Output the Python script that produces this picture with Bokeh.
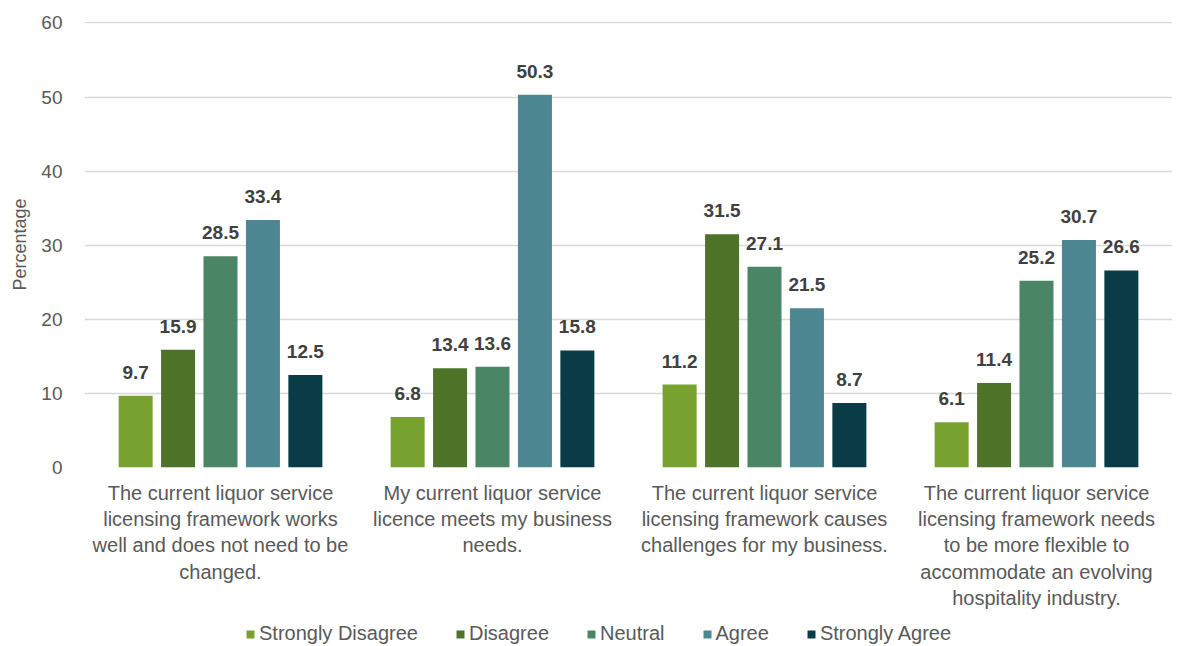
from bokeh.plotting import figure
from bokeh.models import ColumnDataSource, FactorRange, Legend, LegendItem, Range1d
from bokeh.layouts import column
from bokeh.transform import dodge
from bokeh.embed import file_html
from bokeh.resources import INLINE
from bokeh.core.properties import value

categories = [
    "The current liquor service\nlicensing framework works\nwell and does not need to be\nchanged.",
    "My current liquor service\nlicence meets my business\nneeds.",
    "The current liquor service\nlicensing framework causes\nchallenges for my business.",
    "The current liquor service\nlicensing framework needs\nto be more flexible to\naccommodate an evolving\nhospitality industry.",
]
series = ["Strongly Disagree", "Disagree", "Neutral", "Agree", "Strongly Agree"]
strongly_disagree = [9.7, 6.8, 11.2, 6.1]
disagree = [15.9, 13.4, 31.5, 11.4]
neutral = [28.5, 13.6, 27.1, 25.2]
agree = [33.4, 50.3, 21.5, 30.7]
strongly_agree = [12.5, 15.8, 8.7, 26.6]
colors = ["#78A22F", "#4E7228", "#4A8666", "#4D8791", "#0A3C48"]
values = [strongly_disagree, disagree, neutral, agree, strongly_agree]

FONT = "Liberation Sans"

p = figure(width=1177, height=612, x_range=FactorRange(*categories),
           y_range=Range1d(0, 60.2), output_backend="svg", toolbar_location=None,
           min_border_left=84, min_border_top=21, min_border_right=5, min_border_bottom=145)
p.outline_line_color = None
p.background_fill_color = "white"
p.border_fill_color = "white"

src = ColumnDataSource(dict(cat=categories, **{f"s{i}": v for i, v in enumerate(values)},
                            **{f"l{i}": [f"{x:.1f}" for x in v] for i, v in enumerate(values)}))

step = 0.156
width = 0.125
for i, name in enumerate(series):
    off = (i - 2) * step
    p.vbar(x=dodge("cat", off, range=p.x_range), top=f"s{i}", width=width, source=src,
           fill_color=colors[i], line_color=None)
    p.text(x=dodge("cat", off, range=p.x_range), y=f"s{i}", text=f"l{i}", source=src,
           text_align="center", text_baseline="bottom", y_offset=-17,
           text_font=value(FONT), text_font_size="19px", text_font_style="bold",
           text_color="#404040")

p.xgrid.grid_line_color = None
p.ygrid.grid_line_color = "#D9D9D9"
p.ygrid.grid_line_width = 1.3
p.yaxis.ticker = [0, 10, 20, 30, 40, 50, 60]
p.yaxis.axis_line_color = None
p.yaxis.major_tick_line_color = None
p.yaxis.minor_tick_line_color = None
p.yaxis.major_label_text_font = FONT
p.yaxis.major_label_text_font_size = "19px"
p.yaxis.major_label_text_color = "#595959"
p.yaxis.major_label_standoff = 16
p.yaxis.axis_label = "Percentage"
p.yaxis.axis_label_text_font = FONT
p.yaxis.axis_label_text_font_size = "18px"
p.yaxis.axis_label_text_font_style = "normal"
p.yaxis.axis_label_text_color = "#595959"
p.yaxis.axis_label_standoff = 8

p.xaxis.axis_line_color = None
p.xaxis.major_tick_line_color = None
p.xaxis.minor_tick_line_color = None
p.xaxis.major_label_text_font = FONT
p.xaxis.major_label_text_font_size = "20px"
p.xaxis.major_label_text_color = "#595959"
p.xaxis.major_label_text_align = "center"
p.xaxis.major_label_standoff = 8

# legend in a separate strip below the chart (its frame is aligned with the chart's frame)
lg = figure(width=1177, height=34, output_backend="svg", toolbar_location=None,
            x_range=Range1d(0, 1), y_range=Range1d(0, 1),
            min_border_left=0, min_border_right=0, min_border_top=0, min_border_bottom=0)
lg.axis.visible = False
lg.grid.visible = False
lg.outline_line_color = None
items = []
for i, name in enumerate(series):
    # placeholder marks placed outside the strip's visible range, used only for legend swatches
    r = lg.rect(x=[-10], y=[-10], width=1, height=1, fill_color=colors[i], line_color=None)
    items.append(LegendItem(label=name, renderers=[r]))
legend = Legend(items=items, orientation="horizontal", location=(161, 1),
                label_text_font=FONT, label_text_font_size="20px", label_text_color="#595959",
                glyph_width=10, glyph_height=10, spacing=37, label_standoff=4,
                border_line_color=None, background_fill_alpha=0, padding=0, margin=0)
lg.add_layout(legend, "center")

open("out.html", "w").write(file_html(column(p, lg, spacing=0), INLINE))
